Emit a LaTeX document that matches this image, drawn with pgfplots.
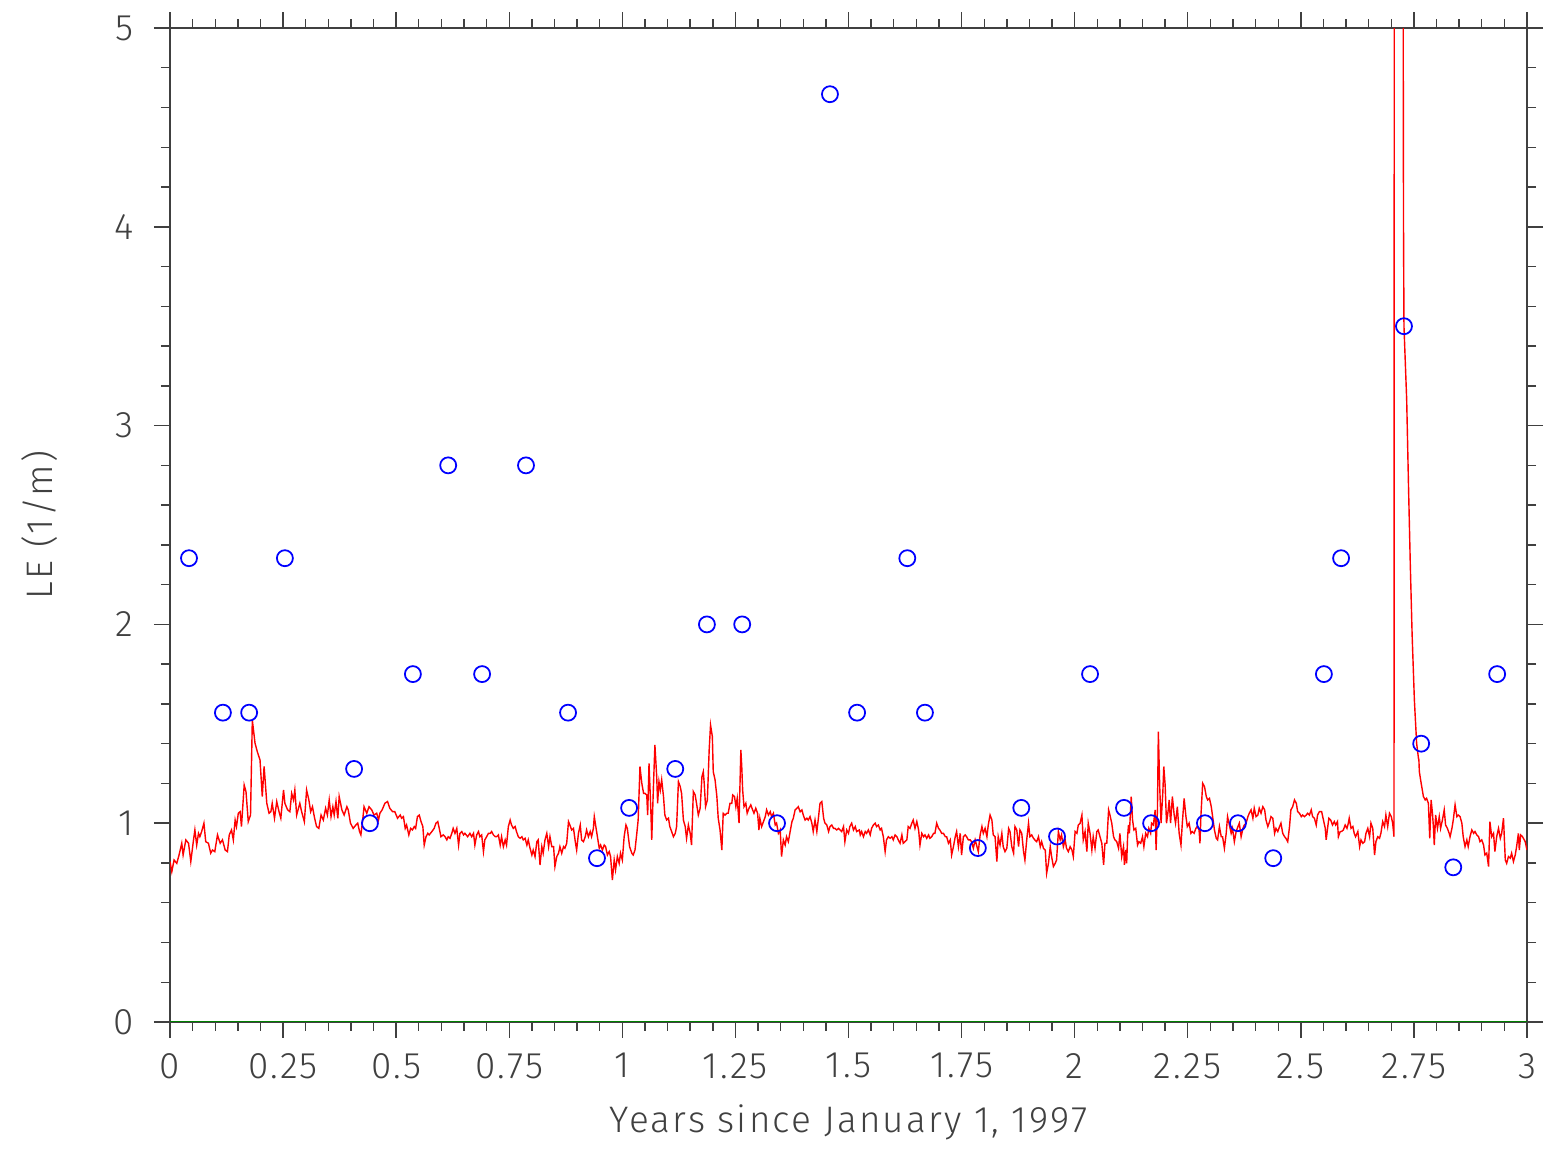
\documentclass[border=0pt]{standalone}
\usepackage{fontspec}
\setmainfont{Fira Sans}[UprightFont={* Light}, LetterSpace=6]
\usepackage{pgfplots}
\pgfplotsset{compat=1.18}

\begin{document}
\begin{tikzpicture}
\begin{axis}[
  scale only axis,
  width=135.7mm, height=99.4mm,
  xmin=0, xmax=3, ymin=0, ymax=5,
  axis line style={black!75, line width=0.4pt},
  tick align=outside,
  major tick length=1.6mm, minor tick length=0.9mm,
  every tick/.style={black!75, line width=0.4pt},
  xtick={0,0.25,0.5,0.75,1,1.25,1.5,1.75,2,2.25,2.5,2.75,3},
  xticklabels={0,0.25,0.5,0.75,1,1.25,1.5,1.75,2,2.25,2.5,2.75,3},
  ytick={0,1,2,3,4,5},
  yticklabels={0,1,2,3,4,5},
  minor x tick num=4,
  minor y tick num=4,
  tick label style={font=\fontsize{10.5}{12}\selectfont, text=black!75},
  xticklabel style={yshift=-0.3mm},
  yticklabel style={xshift=-0.8mm},
  label style={font=\fontsize{10.5}{12}\selectfont, text=black!75},
  xlabel={Years since January 1, 1997},
  ylabel={LE (1/m)},
  xlabel style={yshift=-0.2mm},
  ylabel style={yshift=3.2mm},
]
\addplot[red, line width=0.4pt] table {
0.000 0.807
0.004 0.756
0.009 0.815
0.015 0.798
0.020 0.840
0.026 0.899
0.029 0.840
0.035 0.916
0.041 0.899
0.046 0.807
0.052 0.916
0.055 0.966
0.059 0.890
0.063 0.949
0.066 0.932
0.070 0.958
0.075 1.000
0.079 0.907
0.085 0.899
0.090 0.849
0.094 0.865
0.099 0.857
0.105 0.941
0.111 0.899
0.116 0.916
0.122 0.865
0.127 0.857
0.131 0.941
0.136 0.966
0.140 0.916
0.144 1.016
0.147 0.983
0.151 1.050
0.155 1.058
0.158 0.983
0.164 1.192
0.168 1.159
0.173 1.008
0.178 1.041
0.182 1.519
0.188 1.402
0.193 1.360
0.199 1.318
0.204 1.134
0.208 1.285
0.210 1.226
0.214 1.100
0.219 1.050
0.223 1.058
0.226 1.100
0.231 1.025
0.236 1.109
0.241 1.058
0.245 1.025
0.251 1.167
0.254 1.100
0.260 1.067
0.265 1.058
0.269 1.150
0.273 1.117
0.276 1.167
0.280 1.041
0.284 1.075
0.287 1.100
0.291 1.058
0.297 1.008
0.302 1.167
0.307 1.117
0.311 1.058
0.315 1.083
0.319 1.033
0.324 0.983
0.329 0.974
0.334 1.041
0.339 1.016
0.344 1.075
0.348 1.041
0.352 1.117
0.356 1.033
0.360 1.083
0.363 1.041
0.367 1.109
0.371 1.025
0.374 1.134
0.380 1.067
0.385 1.041
0.391 1.083
0.394 1.067
0.399 1.000
0.405 0.974
0.411 0.991
0.415 1.000
0.419 0.958
0.422 0.941
0.426 1.016
0.429 1.083
0.435 1.050
0.440 1.083
0.446 1.067
0.451 1.041
0.457 1.050
0.461 1.016
0.464 1.050
0.469 1.067
0.475 1.100
0.481 1.109
0.486 1.075
0.492 1.058
0.497 1.058
0.503 1.025
0.509 1.041
0.512 1.025
0.516 1.033
0.520 0.974
0.523 0.991
0.528 0.941
0.532 0.974
0.536 0.966
0.540 0.983
0.543 0.974
0.547 1.033
0.551 1.041
0.555 1.008
0.559 0.983
0.562 0.890
0.566 0.932
0.570 0.949
0.573 0.941
0.579 0.958
0.584 0.974
0.588 1.000
0.592 1.008
0.596 0.966
0.599 0.932
0.604 0.941
0.608 0.932
0.612 0.916
0.615 0.932
0.619 0.924
0.623 0.949
0.626 0.974
0.630 0.949
0.634 0.974
0.638 0.890
0.641 0.949
0.645 0.958
0.649 0.941
0.652 0.949
0.658 0.932
0.663 0.949
0.667 0.932
0.671 0.949
0.674 0.890
0.678 0.941
0.682 0.958
0.685 0.932
0.689 0.941
0.693 0.857
0.696 0.916
0.700 0.932
0.704 0.949
0.708 0.949
0.711 0.958
0.715 0.941
0.719 0.932
0.722 0.932
0.726 0.941
0.730 0.890
0.733 0.932
0.737 0.882
0.741 0.916
0.744 0.890
0.748 0.983
0.752 1.016
0.755 0.991
0.759 0.974
0.763 0.983
0.766 0.958
0.770 0.932
0.774 0.924
0.778 0.932
0.781 0.916
0.785 0.924
0.789 0.890
0.792 0.916
0.796 0.874
0.800 0.840
0.803 0.865
0.807 0.832
0.811 0.907
0.814 0.916
0.818 0.790
0.822 0.882
0.825 0.849
0.829 0.916
0.833 0.949
0.837 0.882
0.840 0.932
0.844 0.882
0.848 0.882
0.851 0.782
0.855 0.832
0.859 0.849
0.862 0.882
0.866 0.849
0.870 0.882
0.873 0.874
0.877 0.899
0.881 1.008
0.884 0.991
0.888 0.966
0.892 0.974
0.896 0.907
0.899 0.865
0.903 0.949
0.907 0.991
0.910 0.916
0.914 0.907
0.918 0.932
0.921 0.966
0.925 0.932
0.929 0.958
0.932 0.932
0.936 0.974
0.938 1.033
0.942 0.974
0.946 0.916
0.949 0.874
0.952 0.890
0.956 0.865
0.960 0.890
0.963 0.882
0.967 0.840
0.971 0.857
0.974 0.832
0.978 0.714
0.982 0.815
0.985 0.765
0.989 0.832
0.993 0.798
0.996 0.849
1.000 0.815
1.004 0.932
1.008 0.991
1.011 0.974
1.016 0.882
1.021 0.849
1.024 0.840
1.028 0.865
1.032 0.949
1.035 1.016
1.039 1.285
1.043 1.201
1.047 1.150
1.050 1.150
1.054 1.142
1.056 1.041
1.059 1.301
1.063 1.067
1.065 0.916
1.069 1.201
1.072 1.394
1.076 1.234
1.078 1.100
1.081 1.209
1.084 1.167
1.087 1.218
1.091 1.134
1.094 1.041
1.098 1.016
1.102 1.025
1.105 0.983
1.109 0.958
1.113 0.932
1.117 0.949
1.120 0.983
1.124 1.209
1.128 1.184
1.131 1.150
1.135 1.016
1.139 0.983
1.142 0.924
1.146 0.991
1.150 0.949
1.153 0.890
1.157 1.159
1.161 1.142
1.164 1.100
1.168 1.041
1.172 1.075
1.176 1.234
1.179 1.259
1.181 1.201
1.184 1.083
1.188 1.117
1.192 1.369
1.195 1.494
1.199 1.436
1.201 1.259
1.205 1.218
1.209 1.134
1.212 1.025
1.216 0.966
1.220 0.865
1.223 1.050
1.227 1.041
1.231 1.050
1.234 1.050
1.238 1.100
1.242 1.100
1.244 1.142
1.248 1.134
1.251 1.083
1.254 1.125
1.258 1.000
1.262 1.369
1.264 1.285
1.266 1.167
1.269 1.083
1.273 1.100
1.276 1.050
1.280 1.075
1.284 1.092
1.288 1.067
1.291 1.050
1.295 1.075
1.299 1.050
1.302 0.966
1.304 1.025
1.308 0.983
1.312 1.008
1.316 1.033
1.319 1.067
1.323 1.041
1.327 1.058
1.330 1.033
1.334 1.050
1.338 0.991
1.341 1.000
1.345 0.949
1.349 0.966
1.352 0.832
1.356 0.916
1.360 0.890
1.363 0.932
1.367 0.907
1.371 0.958
1.375 1.008
1.378 1.025
1.382 1.067
1.386 1.075
1.389 1.083
1.393 1.058
1.397 1.067
1.400 1.041
1.404 1.016
1.408 1.025
1.411 1.016
1.415 1.033
1.419 1.000
1.422 0.958
1.426 1.016
1.430 0.958
1.433 1.016
1.437 1.100
1.441 1.109
1.445 1.025
1.448 1.000
1.452 0.991
1.456 0.958
1.459 0.983
1.463 0.991
1.467 0.974
1.470 0.974
1.474 0.966
1.478 0.974
1.485 0.958
1.489 0.983
1.492 0.907
1.496 0.966
1.500 0.949
1.503 0.983
1.507 1.000
1.511 0.966
1.515 0.983
1.518 0.958
1.524 0.966
1.526 0.941
1.529 0.958
1.533 0.932
1.537 0.958
1.540 0.949
1.544 0.966
1.548 0.941
1.551 0.974
1.555 0.991
1.559 1.000
1.562 0.983
1.566 0.991
1.570 0.966
1.573 0.974
1.577 0.932
1.581 0.857
1.584 0.916
1.588 0.932
1.592 0.924
1.596 0.932
1.599 0.916
1.603 0.941
1.607 0.932
1.610 0.916
1.614 0.899
1.618 0.941
1.621 0.899
1.625 0.907
1.629 0.916
1.632 0.983
1.636 0.974
1.640 1.000
1.643 1.016
1.647 0.974
1.651 1.008
1.655 0.966
1.658 0.890
1.662 0.949
1.666 0.932
1.669 0.941
1.673 0.924
1.677 0.941
1.680 0.924
1.684 0.932
1.688 0.949
1.691 0.949
1.695 1.000
1.699 0.974
1.702 0.966
1.706 0.949
1.710 0.949
1.714 0.932
1.717 0.932
1.721 0.899
1.725 0.916
1.728 0.840
1.732 0.882
1.736 0.932
1.739 0.958
1.743 0.882
1.747 0.949
1.750 0.840
1.754 0.932
1.758 0.941
1.761 0.932
1.765 0.916
1.769 0.916
1.772 0.907
1.776 0.874
1.780 0.916
1.784 0.882
1.787 0.857
1.791 0.941
1.795 0.983
1.798 0.949
1.802 0.974
1.806 0.932
1.809 0.991
1.813 1.041
1.817 1.016
1.820 0.941
1.824 0.932
1.828 0.807
1.831 0.932
1.835 0.890
1.839 0.949
1.842 0.882
1.846 0.857
1.850 0.874
1.854 0.974
1.857 0.958
1.861 0.882
1.865 0.849
1.868 0.983
1.872 0.966
1.876 0.882
1.879 0.966
1.883 0.949
1.887 0.857
1.890 0.815
1.894 0.916
1.898 1.000
1.901 0.932
1.905 0.941
1.909 0.924
1.912 0.916
1.916 0.907
1.920 0.932
1.924 0.882
1.927 0.907
1.931 0.874
1.935 0.865
1.938 0.748
1.942 0.798
1.946 0.882
1.949 0.832
1.953 0.782
1.957 0.798
1.960 0.815
1.964 0.958
1.968 0.916
1.971 0.941
1.975 0.882
1.979 0.916
1.982 0.874
1.986 0.857
1.990 0.882
1.994 0.865
1.997 0.832
2.001 0.958
2.005 0.949
2.008 0.991
2.012 1.000
2.016 1.041
2.019 0.916
2.023 0.958
2.027 0.857
2.030 1.000
2.034 0.949
2.038 0.865
2.041 0.932
2.045 0.874
2.049 0.958
2.052 0.966
2.056 0.932
2.060 0.899
2.064 0.790
2.067 0.899
2.071 0.899
2.075 1.067
2.078 1.041
2.082 1.000
2.086 0.932
2.089 0.916
2.093 0.907
2.097 0.874
2.100 0.949
2.104 0.832
2.108 0.882
2.110 0.790
2.113 0.865
2.115 0.798
2.117 0.932
2.119 0.991
2.121 0.949
2.125 1.134
2.128 1.016
2.131 0.966
2.135 0.974
2.139 0.890
2.142 0.907
2.146 0.899
2.150 0.932
2.153 0.882
2.157 0.949
2.161 0.932
2.164 0.974
2.168 0.949
2.170 1.000
2.174 0.991
2.178 1.067
2.180 0.865
2.183 1.067
2.185 1.461
2.188 1.184
2.191 1.000
2.195 1.159
2.197 1.285
2.200 1.192
2.203 1.000
2.206 1.050
2.209 1.117
2.212 1.000
2.216 1.134
2.220 1.041
2.223 1.000
2.227 1.083
2.231 0.949
2.235 0.890
2.238 1.000
2.242 1.125
2.246 1.033
2.249 0.983
2.253 1.000
2.257 0.949
2.260 0.958
2.264 0.949
2.268 0.974
2.271 0.983
2.275 0.966
2.277 0.899
2.279 1.033
2.283 1.201
2.287 1.184
2.291 1.134
2.294 1.117
2.298 1.125
2.302 1.083
2.305 1.033
2.309 0.966
2.313 0.924
2.316 0.916
2.320 0.983
2.324 0.932
2.327 0.932
2.331 0.874
2.335 0.949
2.338 1.033
2.342 0.991
2.346 0.949
2.349 0.974
2.353 0.907
2.357 0.958
2.361 0.983
2.364 1.000
2.368 0.932
2.372 0.974
2.375 0.991
2.379 1.000
2.383 1.033
2.386 1.050
2.390 1.067
2.394 1.025
2.397 1.075
2.401 1.033
2.405 1.041
2.408 1.075
2.412 1.050
2.416 1.083
2.420 1.067
2.423 1.016
2.427 0.983
2.431 1.008
2.434 1.033
2.438 1.025
2.442 0.949
2.445 0.974
2.449 0.958
2.453 0.983
2.456 1.000
2.460 0.949
2.464 0.932
2.467 0.924
2.471 0.907
2.475 0.983
2.478 1.067
2.482 1.083
2.486 1.117
2.490 1.100
2.493 1.058
2.497 1.050
2.501 1.033
2.504 1.041
2.508 1.033
2.512 1.041
2.515 1.050
2.519 1.041
2.523 1.067
2.526 1.033
2.530 1.025
2.534 0.991
2.537 1.041
2.541 1.058
2.546 1.058
2.550 1.016
2.554 0.974
2.556 0.916
2.560 0.991
2.562 1.025
2.566 1.016
2.570 0.991
2.574 1.008
2.577 0.991
2.581 1.008
2.583 0.932
2.587 0.958
2.590 0.958
2.594 0.966
2.598 0.991
2.602 0.974
2.605 1.000
2.607 1.025
2.611 0.974
2.615 0.983
2.618 0.949
2.621 0.932
2.626 0.958
2.630 0.882
2.633 0.916
2.637 0.899
2.641 0.907
2.644 0.949
2.648 0.974
2.652 0.932
2.655 1.000
2.659 0.974
2.663 0.840
2.666 0.907
2.670 0.932
2.674 0.924
2.677 0.949
2.681 1.008
2.685 0.983
2.688 1.041
2.692 0.983
2.696 1.050
2.700 1.033
2.703 1.000
2.706 0.932
2.7095 30.0
2.727 4.00
2.728 3.50
2.734 3.13
2.738 2.70
2.742 2.30
2.746 1.95
2.751 1.620
2.756 1.402
2.760 1.327
2.761 1.318
2.762 1.259
2.766 1.201
2.771 1.134
2.775 1.117
2.778 1.125
2.782 1.100
2.785 0.924
2.788 1.117
2.791 1.050
2.793 0.983
2.795 0.890
2.798 1.041
2.802 0.974
2.806 1.033
2.809 0.974
2.813 1.016
2.817 1.067
2.820 0.991
2.824 0.974
2.828 0.949
2.830 0.932
2.834 0.974
2.837 1.016
2.841 1.092
2.845 1.033
2.848 1.041
2.852 1.033
2.856 1.000
2.859 0.932
2.863 0.882
2.867 0.916
2.870 0.882
2.874 0.932
2.878 0.966
2.882 0.949
2.885 0.958
2.889 0.941
2.893 0.932
2.896 0.907
2.900 0.916
2.904 0.890
2.907 0.840
2.911 0.849
2.915 0.782
2.918 1.008
2.922 0.932
2.926 0.949
2.929 0.857
2.933 0.932
2.937 0.974
2.941 0.924
2.944 0.949
2.948 1.025
2.952 0.815
2.955 0.798
2.959 0.832
2.963 0.824
2.966 0.849
2.970 0.807
2.974 0.840
2.977 0.882
2.981 0.949
2.983 0.865
2.986 0.941
2.990 0.932
2.994 0.916
2.996 0.907
3.000 0.865
};
\addplot[only marks, mark=o, mark size=0.8mm, blue, mark options={line width=0.5pt}] coordinates {
(0.042,2.333) (0.117,1.556) (0.175,1.556) (0.254,2.333) (0.407,1.273)
(0.442,1.000) (0.537,1.750) (0.615,2.800) (0.690,1.750) (0.787,2.800)
(0.880,1.556) (0.944,0.824) (1.015,1.077) (1.117,1.273) (1.187,2.000)
(1.265,2.000) (1.342,1.000) (1.459,4.667) (1.519,1.556) (1.630,2.333)
(1.669,1.556) (1.786,0.875) (1.882,1.077) (1.961,0.933) (2.034,1.750)
(2.109,1.077) (2.169,1.000) (2.288,1.000) (2.361,1.000) (2.439,0.824)
(2.551,1.750) (2.589,2.333) (2.728,3.500) (2.766,1.400) (2.837,0.778)
(2.934,1.750)
};
\addplot[green!50!black, line width=0.6pt] coordinates {(0,0) (3,0)};
\end{axis}
\path ([shift={(-17mm,-12.1mm)}]current axis.south west) rectangle ([shift={(2.6mm,2.8mm)}]current axis.north east);
\end{tikzpicture}
\end{document}
